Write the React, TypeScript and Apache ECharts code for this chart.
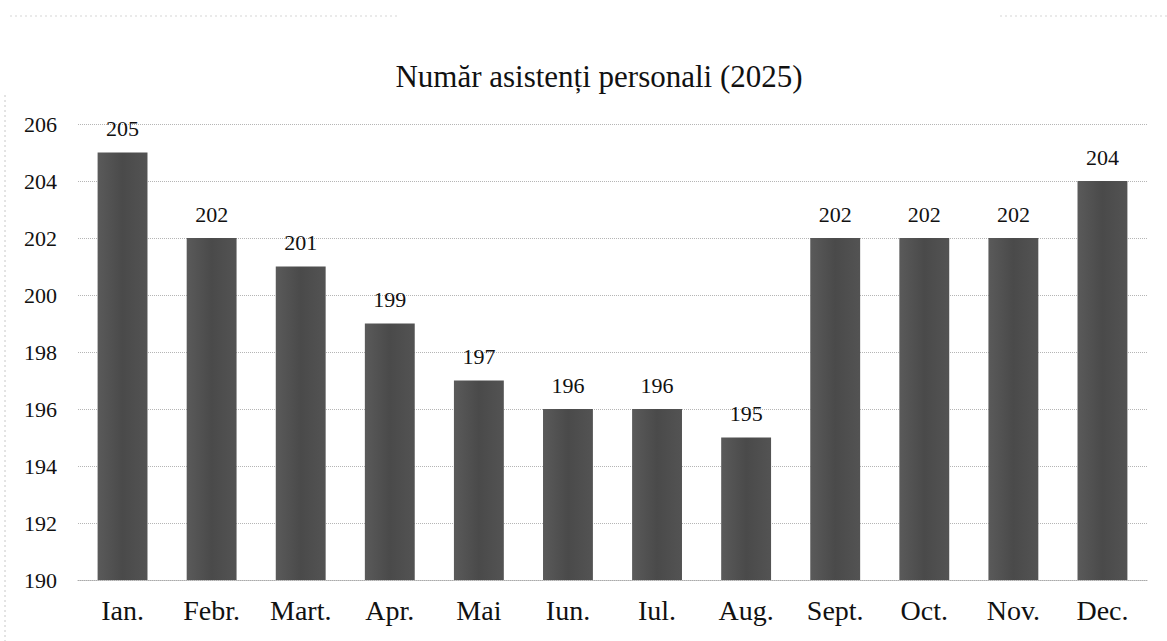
import React, { useEffect, useRef } from "react";
import * as echarts from "echarts";

const categories = ["Ian.", "Febr.", "Mart.", "Apr.", "Mai", "Iun.", "Iul.", "Aug.", "Sept.", "Oct.", "Nov.", "Dec."];
const values = [205, 202, 201, 199, 197, 196, 196, 195, 202, 202, 202, 204];
const yMin = 190;
const yMax = 206;
const yStep = 2;
const titleText = "Număr asistenți personali (2025)";

const FONT = "'Liberation Serif', 'DejaVu Serif', serif";

export default function App() {
  const ref = useRef<HTMLDivElement>(null);
  useEffect(() => {
    if (!ref.current) return;
    const chart = echarts.init(ref.current, undefined, { renderer: "svg" });
    chart.setOption({
      animation: false,
      backgroundColor: "#ffffff",
      title: {
        text: titleText,
        left: 594,
        top: 56,
        textAlign: "center",
        textStyle: { fontFamily: FONT, fontSize: 31, fontWeight: "normal", color: "#111" },
      },
      graphic: [
        {
          type: "line",
          shape: { x1: 5, y1: 95, x2: 5, y2: 641 },
          style: { stroke: "#c8c8c8", lineWidth: 1, lineDash: [2, 3] },
        },
        {
          type: "line",
          shape: { x1: 10, y1: 16, x2: 400, y2: 16 },
          style: { stroke: "#d5d5d5", lineWidth: 1, lineDash: [2, 3] },
        },
        {
          type: "line",
          shape: { x1: 1000, y1: 16, x2: 1167, y2: 16 },
          style: { stroke: "#d5d5d5", lineWidth: 1, lineDash: [2, 3] },
        },
      ],
      grid: { left: 78, right: 20, top: 124, bottom: 61, containLabel: false },
      xAxis: {
        type: "category",
        data: categories,
        axisLine: { show: true, lineStyle: { color: "#aaa", type: "dotted", width: 1 } },
        axisTick: { show: false },
        axisLabel: { fontFamily: FONT, fontSize: 28, color: "#111", margin: 16 },
      },
      yAxis: {
        type: "value",
        min: yMin,
        max: yMax,
        interval: yStep,
        axisLine: { show: false },
        axisTick: { show: false },
        axisLabel: { fontFamily: FONT, fontSize: 22, color: "#111", margin: 21 },
        splitLine: { show: true, lineStyle: { color: "#b5b5b5", type: "dotted", width: 1 } },
      },
      series: [
        {
          type: "bar",
          data: values,
          barWidth: "56%",
          itemStyle: {
            color: new echarts.graphic.LinearGradient(0, 0, 1, 0, [
              { offset: 0, color: "#5a5a5a" },
              { offset: 0.5, color: "#4a4a4a" },
              { offset: 1, color: "#535353" },
            ]),
          },
          label: {
            show: true,
            position: "top",
            distance: 13,
            fontFamily: FONT,
            fontSize: 22,
            color: "#111",
          },
        },
      ],
    });
    return () => chart.dispose();
  }, []);
  return <div ref={ref} style={{ width: 1167, height: 641, position: "absolute", left: 0, top: 0 }} />;
}
